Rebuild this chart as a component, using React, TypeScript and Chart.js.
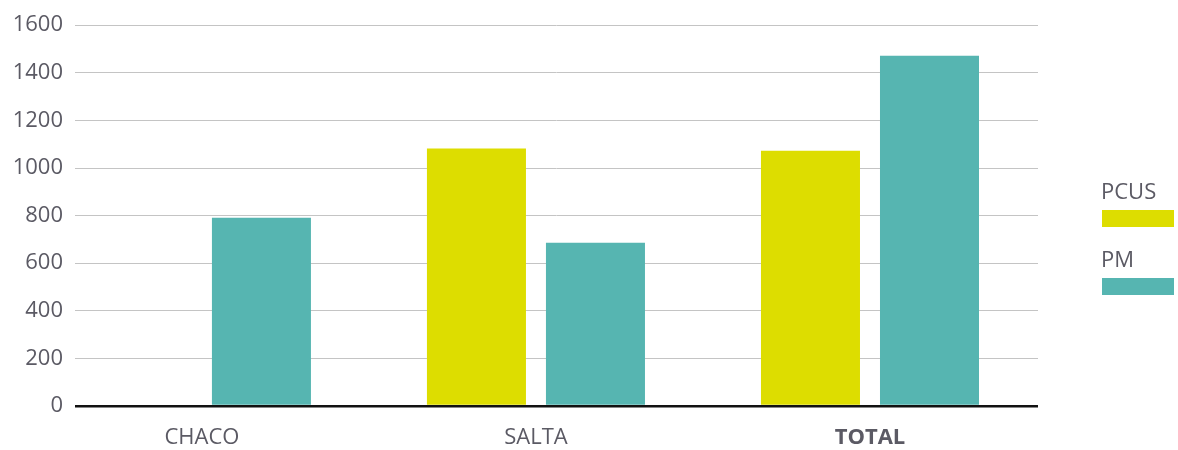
import React, { useEffect, useRef } from "react";
import { Chart, registerables } from "chart.js";

Chart.register(...registerables);

const categories = ["CHACO", "SALTA", "TOTAL"];
const pcusValues = [0, 1082, 1072];
const pmValues = [791, 686, 1472];
const seriesNames = ["PCUS", "PM"];
const seriesColors = ["#dddd00", "#56b5b1"];
const yTicks = [0, 200, 400, 600, 800, 1000, 1200, 1400, 1600];

const TEXT = "#5b5a64";
const FONT = "'Open Sans', 'Noto Sans', sans-serif";

const legendPlugin = {
  id: "sideLegend",
  afterDraw(chart: any) {
    const ctx = chart.ctx;
    const x = 1102;
    const tops = [193, 261];
    ctx.save();
    chart.data.datasets.forEach((ds: any, i: number) => {
      ctx.fillStyle = TEXT;
      ctx.font = `22px ${FONT}`;
      ctx.textBaseline = "middle";
      ctx.textAlign = "left";
      ctx.fillText(ds.label, x - 1, tops[i]);
      ctx.fillStyle = ds.backgroundColor;
      ctx.fillRect(x, tops[i] + 17, 72, 17);
    });
    ctx.restore();
  },
};

export default function App() {
  const ref = useRef<HTMLCanvasElement | null>(null);
  useEffect(() => {
    document.body.style.margin = "0";
    const data = [pcusValues, pmValues];
    const chart = new Chart(ref.current as HTMLCanvasElement, {
      type: "bar",
      data: {
        datasets: seriesNames.map((name, i) => ({
          label: name,
          data: data[i].map((v, j) => ({ x: j, y: v })),
          backgroundColor: seriesColors[i],
          borderWidth: 0,
          categoryPercentage: 0.7126,
          barPercentage: 0.832,
        })),
      },
      options: {
        animation: false,
        responsive: false,
        maintainAspectRatio: false,
        layout: { padding: { top: 25, right: 140, left: 0, bottom: 0 } },
        plugins: { legend: { display: false }, tooltip: { enabled: false } },
        scales: {
          x: {
            type: "linear",
            offset: false,
            min: -0.38,
            max: 2.503,
            afterBuildTicks: (scale: any) => {
              scale.ticks = categories.map((_, i) => ({ value: i }));
            },
            afterFit: (scale: any) => {
              scale.height = 44;
            },
            grid: { display: false, offset: false },
            border: { display: false },
            ticks: {
              padding: 11,
              color: TEXT,
              autoSkip: false,
              maxRotation: 0,
              callback: (v: any) => categories[v] ?? "",
              font: (c: any) => ({
                family: FONT,
                size: 22,
                weight: c.tick && c.tick.value === 2 ? "bold" : "normal",
              }),
            },
          },
          y: {
            min: 0,
            max: 1600,
            afterBuildTicks: (scale: any) => {
              scale.ticks = yTicks.map((v) => ({ value: v }));
            },
            afterFit: (scale: any) => {
              scale.width = 75;
            },
            border: { display: false },
            grid: {
              drawTicks: false,
              color: (c: any) => (c.tick && c.tick.value === 0 ? "#111111" : "#c4c4c4"),
              lineWidth: (c: any) => (c.tick && c.tick.value === 0 ? 2.5 : 1),
            },
            ticks: {
              padding: 12,
              color: TEXT,
              font: { family: FONT, size: 22 },
              callback: (v: any) => String(v),
            },
          },
        },
      },
      plugins: [legendPlugin],
    } as any);
    return () => chart.destroy();
  }, []);
  return (
    <div style={{ position: "relative", width: 1178, height: 450 }}>
      <canvas ref={ref} width={1178} height={450} style={{ width: 1178, height: 450, display: "block" }} />
    </div>
  );
}
